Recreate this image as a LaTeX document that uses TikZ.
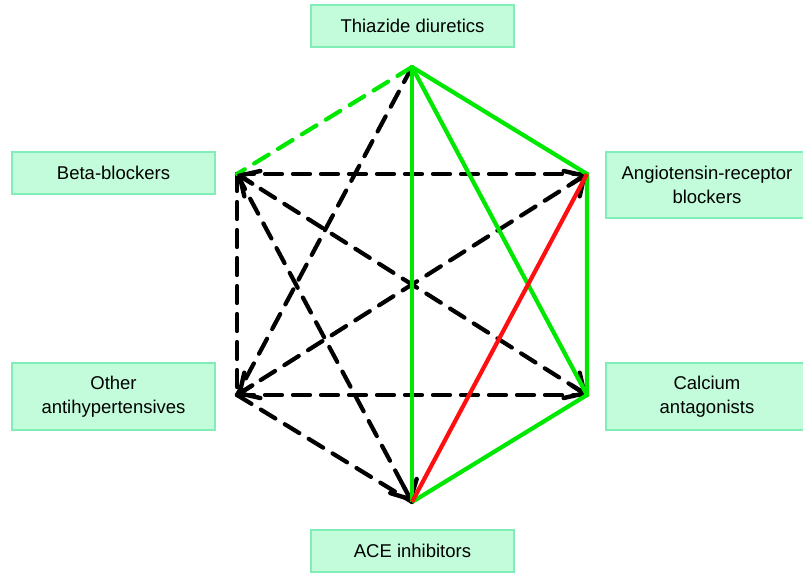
\documentclass[tikz,border=0pt]{standalone}
\usepackage{fontspec}
\setmainfont{Liberation Sans}
\usetikzlibrary{calc, arrows.meta}
\definecolor{mintfill}{HTML}{C2FCDA}
\definecolor{mintline}{HTML}{80EEB6}
\definecolor{goodgreen}{HTML}{00E800}
\definecolor{badred}{HTML}{FF1010}

\begin{document}
\begin{tikzpicture}[x=1pt, y=-1pt,
  drug/.style={fill=mintfill, draw=mintline, line width=2pt,
    minimum width=203pt, minimum height=42pt, align=center,
    font=\fontsize{18.5}{24}\selectfont},
  pref/.style={goodgreen, line width=4.2pt},
  notpref/.style={badred, line width=4.2pt},
  maybe/.style={line width=4.2pt, dash pattern=on 17pt off 11pt, line cap=round},
  head/.style={line width=4.4pt, line cap=round,
    -{Straight Barb[length=15pt, width=30pt, line cap=round]}}
]
  \useasboundingbox (0,0) rectangle (803,574);

  % drug classes
  \node[drug] (thz) at (412.5,26) {Thiazide diuretics};
  \node[drug] (bb) at (113.5,173) {Beta-blockers};
  \node[drug, minimum height=66pt] (arb) at (707,185) {Angiotensin-receptor\\blockers};
  \node[drug, minimum height=67pt] (oth) at (113.5,396.5) {Other\\antihypertensives};
  \node[drug, minimum height=67pt] (cca) at (707,396.5) {Calcium\\antagonists};
  \node[drug] (ace) at (412.5,551) {ACE inhibitors};

  % corners of the hexagon
  \coordinate (t) at (412,67);
  \coordinate (ur) at (587,174);
  \coordinate (lr) at (587,395);
  \coordinate (b) at (412,502);
  \coordinate (ll) at (237,395);
  \coordinate (ul) at (237,174);

  % possible but less tested
  \draw[maybe] (t) -- (ll);
  \draw[maybe] (ul) -- (ur);
  \draw[maybe] (ul) -- (ll);
  \draw[maybe] (ll) -- (lr);
  \draw[maybe] (ll) -- (b);
  \draw[maybe] (ul) -- (b);
  \draw[maybe] (ul) -- (lr);
  \draw[maybe] (ll) -- (ur);
  \draw[maybe, goodgreen] (t) -- (ul);

  % arrow heads
  \draw[head] ($(b)!18pt!(ul)$) -- (b);
  \draw[head] ($(ul)!18pt!(lr)$) -- (ul);
  \draw[head] ($(lr)!18pt!(ul)$) -- (lr);
  \draw[head] ($(ll)!18pt!(ur)$) -- (ll);
  \draw[head] ($(ur)!18pt!(ll)$) -- (ur);

  % preferred
  \draw[pref] (t) -- (b);
  \draw[pref] (t) -- (ur) -- (lr) -- (b);
  \draw[pref] (t) -- (lr);

  % not recommended
  \draw[notpref] (ur) -- (b);
\end{tikzpicture}
\end{document}
